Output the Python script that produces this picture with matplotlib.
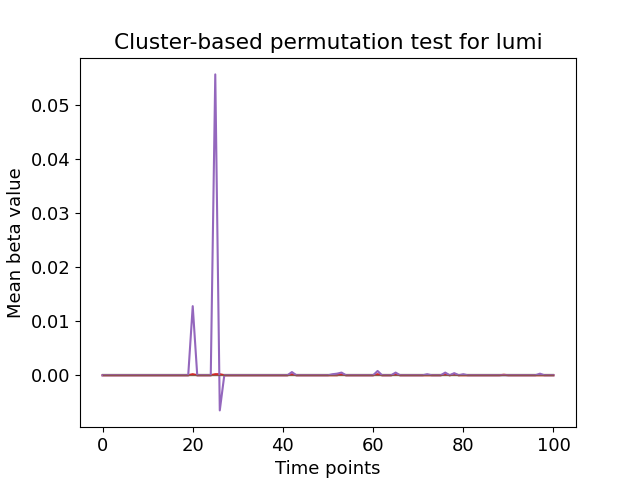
import numpy as np
import matplotlib
matplotlib.use("Agg")
import matplotlib.pyplot as plt

plt.rcParams['font.size'] = 13
x = np.arange(101)
purple_idx = [20, 25, 26, 42, 51, 52, 53, 61, 65, 72, 76, 78, 80, 97]
purple_val = [0.0128, 0.0557, -0.0065, 0.0006, 0.0002, 0.0003, 0.0005, 0.0008, 0.0005, 0.0002, 0.0005, 0.0004, 0.0002, 0.0003]
red_idx = [20, 25, 26, 42, 53, 61, 65, 76, 78, 89]
red_val = [0.0002, 0.0002, 0.0002, 0.0002, 0.0002, 0.0002, 0.0002, 0.0002, 0.0002, 0.0001]

purple = np.zeros(101); purple[purple_idx] = purple_val
red = np.zeros(101); red[red_idx] = red_val
zeros = np.zeros(101)

fig, ax = plt.subplots(figsize=(6.4, 4.8), dpi=100)
ax.plot(x, zeros, color='C0')
ax.plot(x, zeros, color='C1')
ax.plot(x, zeros, color='C2')
ax.plot(x, red, color='C3')
ax.plot(x, purple, color='C4')
ax.plot(x, zeros, color='C5', lw=0.8)
ax.set_title("Cluster-based permutation test for lumi")
ax.set_xlabel("Time points")
ax.set_ylabel("Mean beta value")
fig.savefig("out.png")
